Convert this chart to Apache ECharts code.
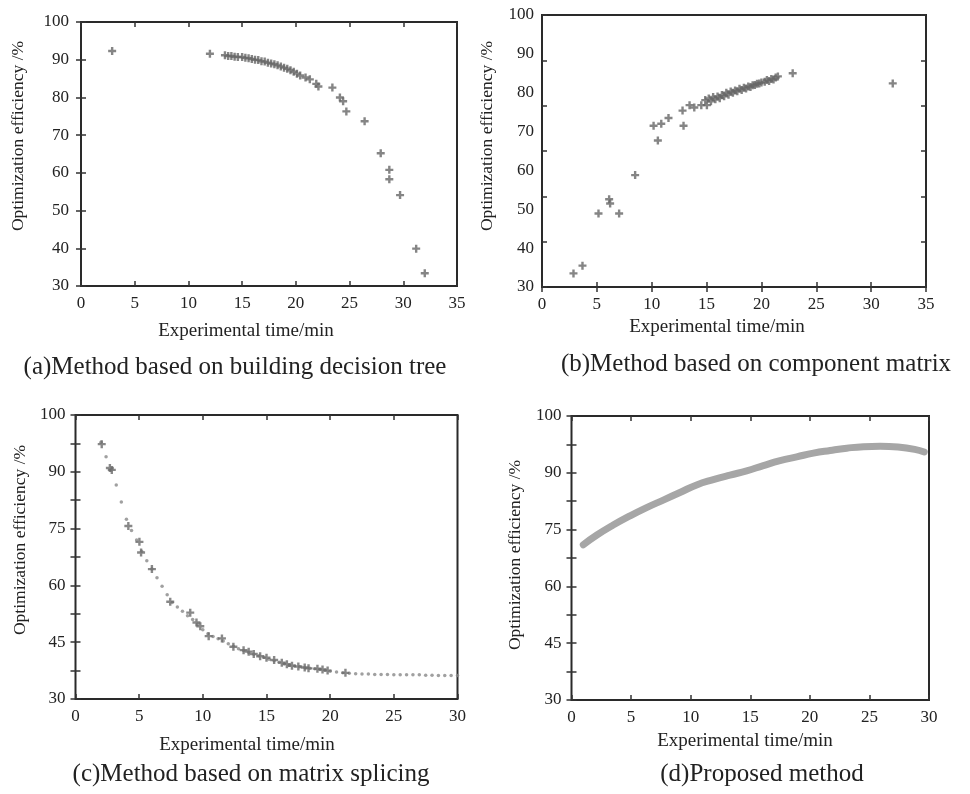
<!DOCTYPE html>
<html>
<head>
<meta charset="utf-8">
<script src="https://cdn.jsdelivr.net/npm/echarts@6/dist/echarts.min.js"></script>
<style>
html,body{margin:0;padding:0;background:#fff;}
#chart{width:970px;height:794px;}
</style>
</head>
<body>
<div id="chart"></div>
<script>
// ---------- data ----------
var dataA = [[2.9,92.3],[12.0,91.6],[13.4,91.2],[13.7,91.0],[14.0,91.0],[14.3,90.8],[14.6,90.7],[15.0,90.7],[15.3,90.5],[15.6,90.4],[15.9,90.2],[16.2,90.0],[16.5,89.9],[16.8,89.6],[17.1,89.5],[17.4,89.2],[17.7,89.0],[18.0,88.8],[18.3,88.5],[18.6,88.2],[18.9,87.9],[19.2,87.6],[19.5,87.2],[19.8,86.8],[20.1,86.3],[20.4,85.8],[20.9,85.3],[21.3,84.8],[21.9,83.6],[22.1,82.9],[23.4,82.6],[24.1,80.0],[24.4,79.0],[24.7,76.3],[26.4,73.7],[27.9,65.2],[28.7,60.8],[28.7,58.3],[29.7,54.1],[31.2,39.9],[32.0,33.4]];
var dataB = [[2.87,33.5],[3.69,35.5],[5.15,48.9],[6.12,52.6],[6.21,51.5],[7.03,48.9],[8.49,58.8],[10.17,71.5],[10.87,72.0],[10.56,67.7],[11.53,73.5],[12.81,75.4],[12.90,71.5],[13.45,76.8],[13.88,76.2],[14.52,76.8],[14.88,78.1],[15.03,76.8],[15.2,78.5],[15.4,77.8],[15.6,78.9],[15.8,78.3],[16.0,79.0],[16.2,78.6],[16.4,79.4],[16.6,79.1],[16.8,80.0],[17.0,79.5],[17.2,80.3],[17.4,80.0],[17.6,80.6],[17.8,80.4],[18.0,81.0],[18.2,80.7],[18.4,81.3],[18.6,81.1],[18.8,81.6],[19.0,81.5],[19.2,81.9],[19.4,82.0],[19.6,82.3],[19.8,82.4],[20.0,82.6],[20.3,82.8],[20.5,83.3],[20.7,83.0],[20.9,83.5],[21.1,83.4],[21.3,83.9],[21.5,84.2],[22.85,85.0],[31.97,82.4]];
var dataCDots = [[2.0,97.8],[2.4,94.0],[2.8,90.5],[3.2,86.5],[3.6,82.0],[4.0,77.5],[4.4,74.5],[4.8,72.0],[5.2,69.0],[5.6,66.5],[6.0,64.3],[6.4,62.0],[6.8,59.8],[7.2,57.5],[7.6,55.5],[8.0,54.3],[8.4,53.2],[8.8,52.0],[9.2,51.0],[9.6,49.8],[10.0,48.3],[10.4,47.2],[10.8,46.5],[11.2,45.9],[11.6,45.3],[12.0,44.6],[12.4,43.9],[12.8,43.3],[13.2,42.8],[13.6,42.3],[14.0,41.8],[14.4,41.4],[14.8,41.0],[15.2,40.5],[15.6,40.1],[16.0,39.7],[16.4,39.3],[16.8,38.9],[17.2,38.7],[17.6,38.5],[18.0,38.3],[18.4,38.1],[18.8,38.0],[19.2,37.8],[19.6,37.6],[20.0,37.3],[20.5,37.1],[21.0,36.9],[21.5,36.8],[22.0,36.7],[22.5,36.6],[23.0,36.6],[23.5,36.5],[24.0,36.5],[24.5,36.5],[25.0,36.4],[25.5,36.4],[26.0,36.4],[26.5,36.4],[27.0,36.4],[27.5,36.3],[28.0,36.3],[28.5,36.2],[29.0,36.2],[29.5,36.2],[30.0,36.2]];
var dataCPlus = [[2.06,97.3],[2.7,91.0],[2.85,90.5],[4.15,75.7],[5.02,71.5],[5.15,68.7],[6.0,64.3],[7.44,55.7],[9.01,52.8],[9.5,50.2],[9.8,49.2],[10.46,46.6],[11.5,46.0],[12.4,43.8],[13.2,42.9],[13.6,42.5],[14.0,41.9],[14.5,41.3],[15.0,40.9],[15.6,40.3],[16.2,39.6],[16.6,39.2],[17.0,38.8],[17.5,38.6],[18.0,38.3],[18.3,38.1],[19.0,38.0],[19.4,37.8],[19.8,37.5],[21.2,36.9]];
var dataD = [[0.99,71.0],[2.1,73.5],[3.5,76.2],[4.9,78.6],[6.3,80.8],[7.7,82.8],[9.1,84.8],[10.5,86.8],[11.9,88.2],[13.3,89.4],[14.7,90.5],[16.1,91.9],[17.5,93.2],[18.9,94.2],[20.3,95.2],[21.7,95.9],[23.1,96.5],[24.5,96.9],[25.9,97.0],[27.4,96.8],[28.8,96.2],[29.6,95.5]];

var yTicksCD = [30,45,60,75,90,105];
var yLabelsCD = ['30','45','60','75','90','100'];
var captions = ['(a)Method based on building decision tree','(b)Method based on component matrix','(c)Method based on matrix splicing','(d)Proposed method'];
var xTitle = 'Experimental time/min';
var yTitle = 'Optimization efficiency /%';

// ---------- layout ----------
var FONT = 'Liberation Serif';
var grids = [
  {left:81, top:22, width:376, height:264},
  {left:542, top:15, width:384, height:272},
  {left:75.5, top:415, width:382, height:284},
  {left:571.5, top:416, width:357.5, height:284}
];
var plusPath = 'path://M3.5,0L6.5,0L6.5,3.5L10,3.5L10,6.5L6.5,6.5L6.5,10L3.5,10L3.5,6.5L0,6.5L0,3.5L3.5,3.5Z';
var tickStyle = {show:true, inside:true, length:5, lineStyle:{color:'#333', width:1.5}};
var labelStyle = {color:'#222', fontFamily:FONT, fontSize:17};

var xAxes = [], yAxes = [];
var xMax = [35,35,30,30];
grids.forEach(function(g,i){
  g.show = true; g.borderColor = '#2a2a2a'; g.borderWidth = 2; g.backgroundColor = 'transparent';
  xAxes.push({gridIndex:i, type:'value', min:0, max:xMax[i], interval:5, position:'bottom',
    axisLine:{show:false}, axisTick:tickStyle, splitLine:{show:false},
    axisLabel:Object.assign({margin:9}, labelStyle)});
  xAxes.push({gridIndex:i, type:'value', min:0, max:xMax[i], interval:5, position:'top',
    axisLine:{show:false}, axisTick:tickStyle, splitLine:{show:false}, axisLabel:{show:false}});
});
// a
yAxes.push({gridIndex:0, type:'value', min:30, max:100, interval:10, position:'left',
  axisLine:{show:false}, axisTick:tickStyle, splitLine:{show:false}, axisLabel:Object.assign({margin:12}, labelStyle)});
yAxes.push({gridIndex:0, type:'value', min:30, max:100, interval:10, position:'right',
  axisLine:{show:false}, axisTick:tickStyle, splitLine:{show:false}, axisLabel:{show:false}});
// b : labels every 10, tick marks at six equal steps
yAxes.push({gridIndex:1, type:'value', min:30, max:100, interval:10, position:'left',
  axisLine:{show:false}, axisTick:{show:false}, splitLine:{show:false}, axisLabel:Object.assign({margin:8}, labelStyle)});
yAxes.push({gridIndex:1, type:'value', min:0, max:6, interval:1, position:'left',
  axisLine:{show:false}, axisTick:tickStyle, splitLine:{show:false}, axisLabel:{show:false}});
yAxes.push({gridIndex:1, type:'value', min:0, max:6, interval:1, position:'right',
  axisLine:{show:false}, axisTick:tickStyle, splitLine:{show:false}, axisLabel:{show:false}});
// c, d
[2,3].forEach(function(i){
  yAxes.push({gridIndex:i, type:'value', min:30, max:105, interval:7.5, position:'left',
    axisLine:{show:false}, axisTick:tickStyle, splitLine:{show:false},
    axisLabel:Object.assign({margin:10, formatter:function(v){
      var k = yTicksCD.indexOf(v); return k >= 0 ? yLabelsCD[k] : '';
    }}, labelStyle)});
  yAxes.push({gridIndex:i, type:'value', min:30, max:105, interval:7.5, position:'right',
    axisLine:{show:false}, axisTick:tickStyle, splitLine:{show:false}, axisLabel:{show:false}});
});

var series = [
  {type:'scatter', xAxisIndex:0, yAxisIndex:0, data:dataA, symbol:plusPath, symbolSize:8,
   itemStyle:{color:'#666'}, silent:true},
  {type:'scatter', xAxisIndex:2, yAxisIndex:2, data:dataB, symbol:plusPath, symbolSize:8,
   itemStyle:{color:'#666'}, silent:true},
  {type:'scatter', xAxisIndex:4, yAxisIndex:5, data:dataCDots, symbol:'circle', symbolSize:3.5,
   itemStyle:{color:'#888'}, silent:true},
  {type:'scatter', xAxisIndex:4, yAxisIndex:5, data:dataCPlus, symbol:plusPath, symbolSize:8,
   itemStyle:{color:'#6a6a6a'}, silent:true},
  {type:'line', xAxisIndex:6, yAxisIndex:7, data:dataD, smooth:true, showSymbol:false,
   lineStyle:{color:'#a6a6a6', width:7, cap:'round'}, silent:true}
];

function txt(x, y, s, size, rot){
  return {type:'text', x:x, y:y, rotation:rot||0,
    style:{text:s, fontFamily:FONT, fontSize:size, fill:'#222', textAlign:'center', textVerticalAlign:'middle'}};
}
var graphics = [
  txt(246, 331, xTitle, 19), txt(717, 327, xTitle, 19),
  txt(247, 745, xTitle, 19), txt(745, 741, xTitle, 19),
  txt(18, 136, yTitle, 17.5, Math.PI/2), txt(487, 136, yTitle, 17.5, Math.PI/2),
  txt(20, 540, yTitle, 17.5, Math.PI/2), txt(515, 555, yTitle, 17.5, Math.PI/2),
  txt(235, 367, captions[0], 25), txt(756, 364, captions[1], 25),
  txt(251, 774, captions[2], 25), txt(762, 774, captions[3], 25)
];

var chart = echarts.init(document.getElementById('chart'), null, {renderer:'canvas'});
chart.setOption({
  animation:false,
  backgroundColor:'#ffffff',
  grid:grids, xAxis:xAxes, yAxis:yAxes, series:series, graphic:graphics
});
</script>
</body>
</html>
